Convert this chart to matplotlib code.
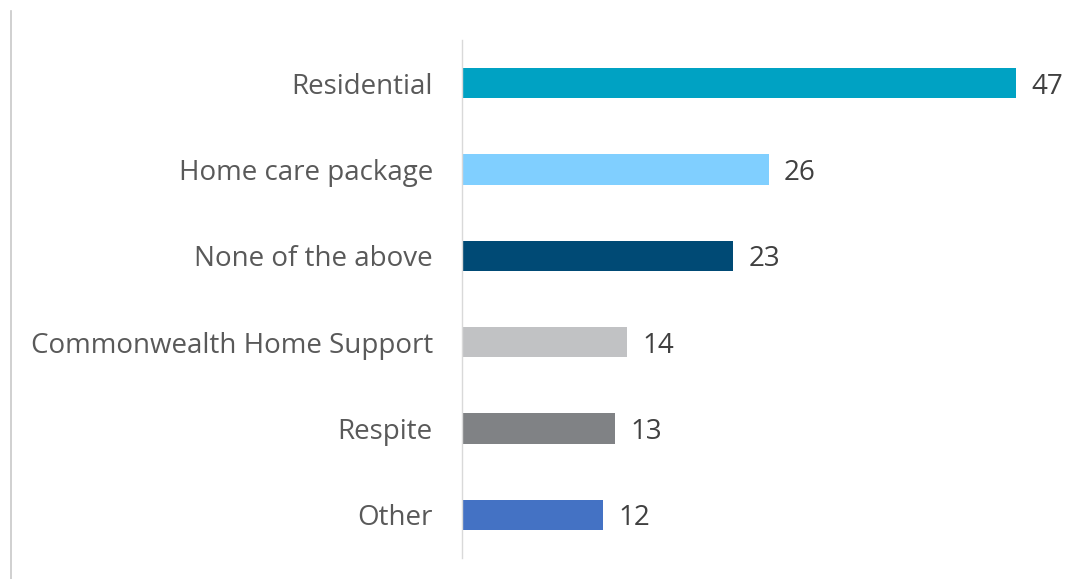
import matplotlib
matplotlib.use("Agg")
import matplotlib.pyplot as plt
from matplotlib.lines import Line2D

categories = ["Residential", "Home care package", "None of the above",
              "Commonwealth Home Support", "Respite", "Other"]
values = [47, 26, 23, 14, 13, 12]
colors = ["#00A2C3", "#80CFFF", "#004A75", "#C1C2C4", "#808285", "#4472C4"]

plt.rcParams["font.family"] = ["Open Sans", "DejaVu Sans"]

fig = plt.figure(figsize=(10.71, 5.79), dpi=100)
ax = fig.add_axes([462 / 1071, 1 - 558 / 579, 1 - 462 / 1071, (558 - 40) / 579])

ypos = list(range(len(categories)))
ax.barh(ypos, values, height=0.35, color=colors)
ax.set_ylim(len(categories) - 0.5, -0.5)
ax.set_xlim(0, 51.66)

ax.set_yticks(ypos)
ax.set_yticklabels(categories, fontsize=20, color="#595959")
ax.tick_params(axis="y", length=0, pad=21)
ax.set_xticks([])

for y, v in zip(ypos, values):
    ax.text(v + 1.3, y, str(v), va="center_baseline", ha="left", fontsize=20, color="#404040")

for side in ["top", "right", "bottom"]:
    ax.spines[side].set_visible(False)
ax.spines["left"].set_color("#D9D9D9")
ax.spines["left"].set_linewidth(1)

# thin frame line on the left edge
fig.add_artist(Line2D([11 / 1071, 11 / 1071], [0, 1 - 11 / 579],
                      transform=fig.transFigure, color="#C8C8C8", lw=1.2))

fig.savefig("out.png", dpi=100)
